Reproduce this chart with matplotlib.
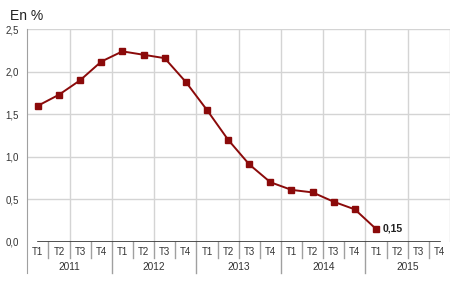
import numpy as np
import matplotlib
matplotlib.use('Agg')
import matplotlib.pyplot as plt

# data
years = ['2011', '2012', '2013', '2014', '2015']
quarters = ['T1', 'T2', 'T3', 'T4']
values = [1.60, 1.73, 1.90, 2.12, 2.24, 2.20, 2.16, 1.88,
          1.55, 1.20, 0.91, 0.70, 0.61, 0.58, 0.47, 0.38, 0.15]
y_ticks = [0.0, 0.5, 1.0, 1.5, 2.0, 2.5]

plt.rcParams['font.family'] = ['Liberation Sans', 'DejaVu Sans']

n_slots = len(years) * len(quarters)
x = np.arange(len(values))

fig = plt.figure(figsize=(4.5, 2.91), dpi=100)
ax = fig.add_axes([0.0607, 0.1694, 0.9393, 0.73])

# grid
for yt in y_ticks[1:]:
    ax.axhline(yt, color='#d4d4d4', lw=1, zorder=0)
for xv in np.arange(1.5, n_slots, 2):
    ax.axvline(xv, color='#d4d4d4', lw=1, zorder=0)

# series
ax.plot(x, values, color='#8b0a0a', lw=1.4, marker='s', ms=3.9, zorder=3)
last_label = f'{values[-1]:.2f}'.replace('.', ',')
ax.annotate(last_label, (x[-1], values[-1]), xytext=(5, 0),
            textcoords='offset points', va='center', ha='left',
            fontsize=7.5, fontweight='bold', color='#222222')

ax.set_xlim(-0.5, n_slots - 0.5)
ax.set_ylim(0, 2.5)

for s in ['top', 'right', 'bottom']:
    ax.spines[s].set_visible(False)
ax.spines['left'].set_color('#a0a0a0')
ax.spines['left'].set_bounds(-0.37, 2.5)
ax.spines['left'].set_clip_on(False)
ax.axhline(0, xmin=0.025, xmax=0.977, color='#333333', lw=1.2, zorder=4)

ax.set_xticks([])
ax.set_yticks(y_ticks)
ax.set_yticklabels([f'{v:.1f}'.replace('.', ',') for v in y_ticks],
                   fontsize=7, color='#333333')
ax.tick_params(axis='y', length=0, pad=6)

# category axis: quarters and years
for i in range(n_slots):
    ax.text(i, -0.12, quarters[i % 4], ha='center', va='center', fontsize=7,
            color='#333333', clip_on=False)
    if i % 4 != 0:
        ax.plot([i - 0.5, i - 0.5], [0, -0.19], color='#a0a0a0', lw=1,
                clip_on=False)
    elif i > 0:
        ax.plot([i - 0.5, i - 0.5], [0, -0.37], color='#a0a0a0', lw=1,
                clip_on=False)
for k, yr in enumerate(years):
    ax.text(k * 4 + 1.5, -0.30, yr, ha='center', va='center', fontsize=7.3,
            color='#333333', clip_on=False)

fig.text(0.022, 0.968, 'En %', ha='left', va='top', fontsize=10,
         color='#222222')

fig.savefig('out.png', dpi=100)
